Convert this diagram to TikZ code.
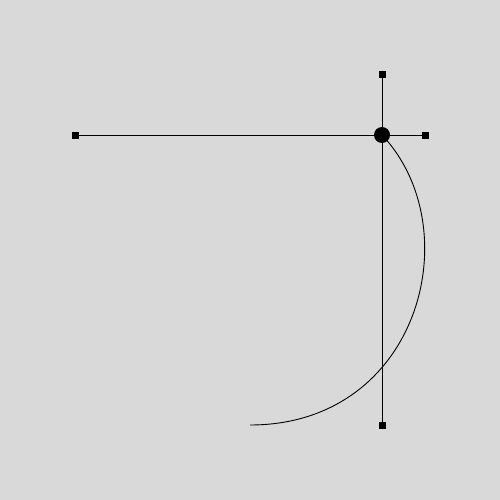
\documentclass[tikz,border=0pt]{standalone}
\begin{document}
\begin{tikzpicture}[x=1pt,y=-1pt,
  handle/.style={fill=black,minimum size=7pt,inner sep=0pt,draw=none,rectangle},
  pivot/.style={fill=black,circle,minimum size=16pt,inner sep=0pt}]
\fill[gray!30] (0,0) rectangle (500,500);
\useasboundingbox (0,0) rectangle (500,500);
\node[handle] (l) at (75,135) {};
\node[handle] (r) at (425,135) {};
\node[handle] (t) at (382,75) {};
\node[handle] (b) at (382,425) {};
\coordinate (e) at (250,425);
\coordinate (c) at (382,135);
\draw[line width=1pt] (l.center) -- (r.center);
\draw[line width=1pt] (t.center) -- (b.center);
\draw[line width=0.9pt] (c) .. controls (470,228) and (420,425) .. (e);
\node[pivot] (p) at (c) {};
\end{tikzpicture}
\end{document}
